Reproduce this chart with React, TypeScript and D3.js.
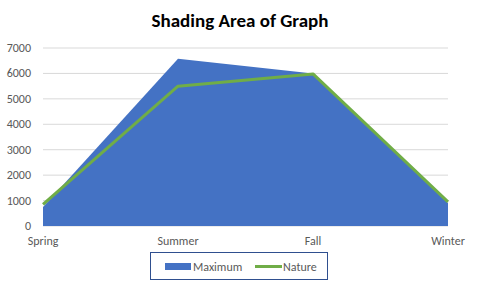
import React from "react";
import * as d3 from "d3";

const categories = ["Spring", "Summer", "Fall", "Winter"];
const maximum = [750, 6580, 6000, 900];
const nature = [850, 5500, 5980, 950];
const yTicks = [0, 1000, 2000, 3000, 4000, 5000, 6000, 7000];

export default function App() {
  const W = 480, H = 287;
  const left = 43, right = 448, top = 48, bottom = 226;
  const x = d3.scalePoint<string>().domain(categories).range([left, right]);
  const y = d3.scaleLinear().domain([0, 7000]).range([bottom, top]);
  const area = d3.area<number>()
    .x((_, i) => x(categories[i])!)
    .y0(y(0))
    .y1((d) => y(d));
  const line = d3.line<number>()
    .x((_, i) => x(categories[i])!)
    .y((d) => y(d));
  const font = "Calibri, Carlito, 'Liberation Sans', Arial, sans-serif";
  return (
    <svg width={W} height={H} style={{ position: "absolute", left: 0, top: 0 }} fontFamily={font}>
      <rect width={W} height={H} fill="#fff" />
      <text x={240} y={27} textAnchor="middle" fontSize={19} fontWeight="bold" fill="#000">
        Shading Area of Graph
      </text>
      {yTicks.map((t) => (
        <g key={t}>
          <line x1={left} x2={right} y1={y(t)} y2={y(t)} stroke="#d9d9d9" strokeWidth={1} />
          <text x={31} y={y(t) + 4} textAnchor="end" fontSize={12} fill="#595959">{t}</text>
        </g>
      ))}
      <path d={area(maximum)!} fill="#4472c4" />
      <path d={line(nature)!} fill="none" stroke="#70ad47" strokeWidth={3} strokeLinejoin="round" />
      {categories.map((c) => (
        <text key={c} x={x(c)!} y={245} textAnchor="middle" fontSize={12} fill="#595959">{c}</text>
      ))}
      <rect x={150.5} y={252.5} width={177} height={27} fill="none" stroke="#2f4f8f" strokeWidth={1} />
      <rect x={165} y={263} width={26} height={7} fill="#4472c4" />
      <text x={193} y={270.5} fontSize={12} fill="#595959">Maximum</text>
      <line x1={255} x2={282} y1={266.5} y2={266.5} stroke="#70ad47" strokeWidth={3} />
      <text x={283} y={270.5} fontSize={12} fill="#595959">Nature</text>
    </svg>
  );
}
